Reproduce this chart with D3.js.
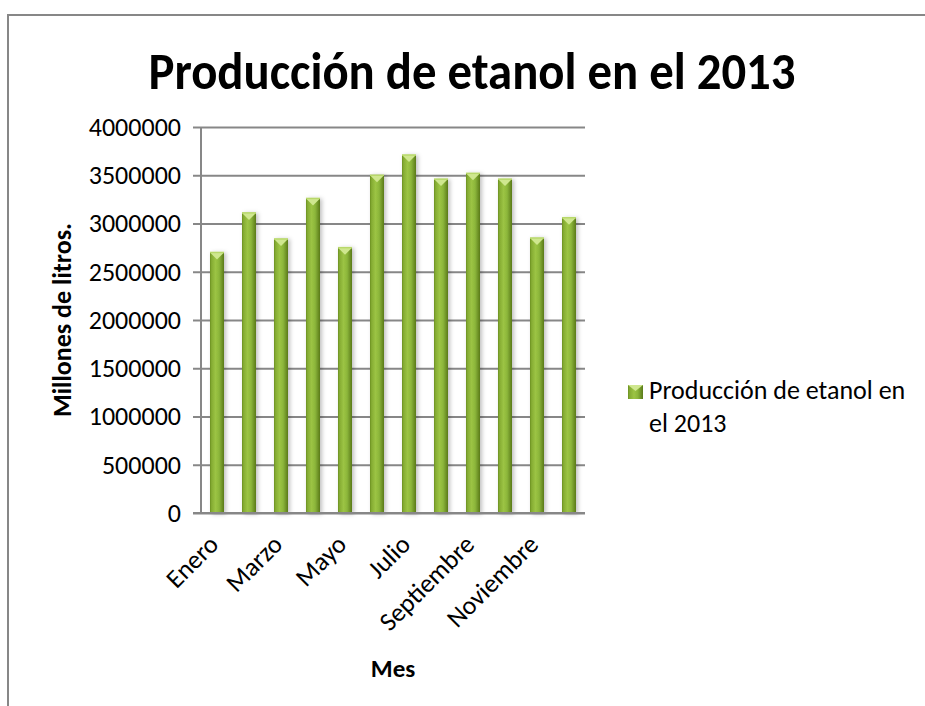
<!DOCTYPE html>
<html>
<head>
<meta charset="utf-8">
<script src="https://cdn.jsdelivr.net/npm/d3@7"></script>
<style>
  body { margin: 0; background: #fff; }
  svg { display: block; font-family: Calibri, Carlito, Lato, sans-serif; }
</style>
</head>
<body>
<svg id="chart" width="925" height="706"></svg>
<script>
// datos
const months = ["Enero", "Febrero", "Marzo", "Abril", "Mayo", "Junio", "Julio",
  "Agosto", "Septiembre", "Octubre", "Noviembre", "Diciembre"];
const production = [2700000, 3110000, 2840000, 3260000, 2750000, 3500000,
  3710000, 3460000, 3520000, 3460000, 2850000, 3060000];
const yTicks = [0, 500000, 1000000, 1500000, 2000000, 2500000, 3000000, 3500000, 4000000];
const seriesName = "Producción de etanol en el 2013";
const legendLines = ["Producción de etanol en", "el 2013"];

const svg = d3.select("#chart");
const plot = { left: 201, right: 585, top: 127, bottom: 513 };

// frame of the chart area
svg.append("rect")
  .attr("x", 8).attr("y", 15)
  .attr("width", 1000).attr("height", 1000)
  .attr("fill", "none")
  .attr("stroke", "#878787")
  .attr("stroke-width", 2);

const defs = svg.append("defs");
const grad = defs.append("linearGradient").attr("id", "barGrad")
  .attr("x1", 0).attr("x2", 1).attr("y1", 0).attr("y2", 0);
[["0%", "#6b8f22"], ["12%", "#86ad33"], ["40%", "#9cc444"], ["65%", "#8cb63a"], ["100%", "#5a7a1a"]]
  .forEach(s => grad.append("stop").attr("offset", s[0]).attr("stop-color", s[1]));

const shadow = defs.append("filter").attr("id", "shadow")
  .attr("x", "-50%").attr("y", "-10%").attr("width", "200%").attr("height", "120%");
shadow.append("feDropShadow")
  .attr("dx", 2).attr("dy", 1).attr("stdDeviation", 2)
  .attr("flood-color", "#000").attr("flood-opacity", 0.25);

const x = d3.scaleBand()
  .domain(months)
  .range([plot.left, plot.right])
  .paddingInner(0.5625)
  .paddingOuter(0.28125);

const y = d3.scaleLinear()
  .domain([0, 4000000])
  .range([plot.bottom, plot.top]);

// gridlines
svg.append("g")
  .attr("transform", `translate(${plot.left},0)`)
  .call(d3.axisLeft(y).tickValues(yTicks).tickSize(-(plot.right - plot.left)).tickFormat(""))
  .call(g => g.select(".domain").remove())
  .call(g => g.selectAll("line").attr("stroke", "#878787").attr("stroke-width", 2));

// y axis
svg.append("g")
  .attr("transform", `translate(${plot.left},0)`)
  .call(d3.axisLeft(y).tickValues(yTicks).tickSize(8).tickPadding(12).tickFormat(d3.format("d")))
  .call(g => g.select(".domain").attr("stroke", "#878787").attr("stroke-width", 2)
    .attr("d", `M0,${plot.top}V${plot.bottom}`))
  .call(g => g.selectAll("line").attr("stroke", "#878787").attr("stroke-width", 2))
  .call(g => g.selectAll("text")
    .attr("font-size", 26)
    .attr("fill", "#000")
    .attr("font-family", "Calibri, Carlito, Lato, sans-serif"));

// bars
const bars = svg.append("g").selectAll("g")
  .data(production)
  .join("g")
  .attr("filter", "url(#shadow)");

bars.append("rect")
  .attr("x", (d, i) => x(months[i]))
  .attr("y", d => y(d))
  .attr("width", x.bandwidth())
  .attr("height", d => y(0) - y(d))
  .attr("fill", "url(#barGrad)");

// bevel on top of each bar
bars.append("path")
  .attr("d", (d, i) => {
    const x0 = x(months[i]), x1 = x0 + x.bandwidth(), xc = (x0 + x1) / 2, t = y(d);
    return `M${x0},${t}L${x1},${t}L${xc},${t + 7}Z`;
  })
  .attr("fill", "#cfe78f");
bars.append("path")
  .attr("d", (d, i) => {
    const x0 = x(months[i]), x1 = x0 + x.bandwidth(), t = y(d);
    return `M${x0},${t}L${x1},${t}`;
  })
  .attr("stroke", "#b8d86a")
  .attr("stroke-width", 1.5);

// x axis line
svg.append("g")
  .attr("transform", `translate(0,${plot.bottom})`)
  .call(d3.axisBottom(x).tickSize(0).tickFormat(""))
  .call(g => g.select(".domain").attr("stroke", "#878787").attr("stroke-width", 2)
    .attr("d", `M${plot.left - 8},0H${plot.right}`));

// x labels, every other month, rotated
svg.append("g").selectAll("text")
  .data(months.filter((m, i) => i % 2 === 0))
  .join("text")
  .attr("transform", d => `translate(${x(d) + x.bandwidth() / 2 + 3},${plot.bottom + 33}) rotate(-45)`)
  .attr("text-anchor", "end")
  .attr("font-size", 26)
  .text(d => d);

// title
svg.append("text")
  .attr("x", 472).attr("y", 89)
  .attr("text-anchor", "middle")
  .attr("font-size", 52)
  .attr("font-weight", "bold")
  .attr("textLength", 647)
  .attr("lengthAdjust", "spacingAndGlyphs")
  .text(seriesName);

// axis titles
svg.append("text")
  .attr("transform", `translate(71,${(plot.top + plot.bottom) / 2}) rotate(-90)`)
  .attr("text-anchor", "middle")
  .attr("font-size", 26)
  .attr("font-weight", "bold")
  .text("Millones de litros.");

svg.append("text")
  .attr("x", (plot.left + plot.right) / 2).attr("y", 677)
  .attr("text-anchor", "middle")
  .attr("font-size", 25)
  .attr("font-weight", "bold")
  .text("Mes");

// legend
const legend = svg.append("g").attr("transform", "translate(628,385)");
legend.append("rect")
  .attr("width", 15).attr("height", 14)
  .attr("fill", "url(#barGrad)");
legend.append("path")
  .attr("d", "M0,0L15,0L7.5,6Z")
  .attr("fill", "#cfe78f");
legend.selectAll("text")
  .data(legendLines)
  .join("text")
  .attr("x", 21)
  .attr("y", (d, i) => 14 + i * 33)
  .attr("font-size", 26)
  .text(d => d);
</script>
</body>
</html>
